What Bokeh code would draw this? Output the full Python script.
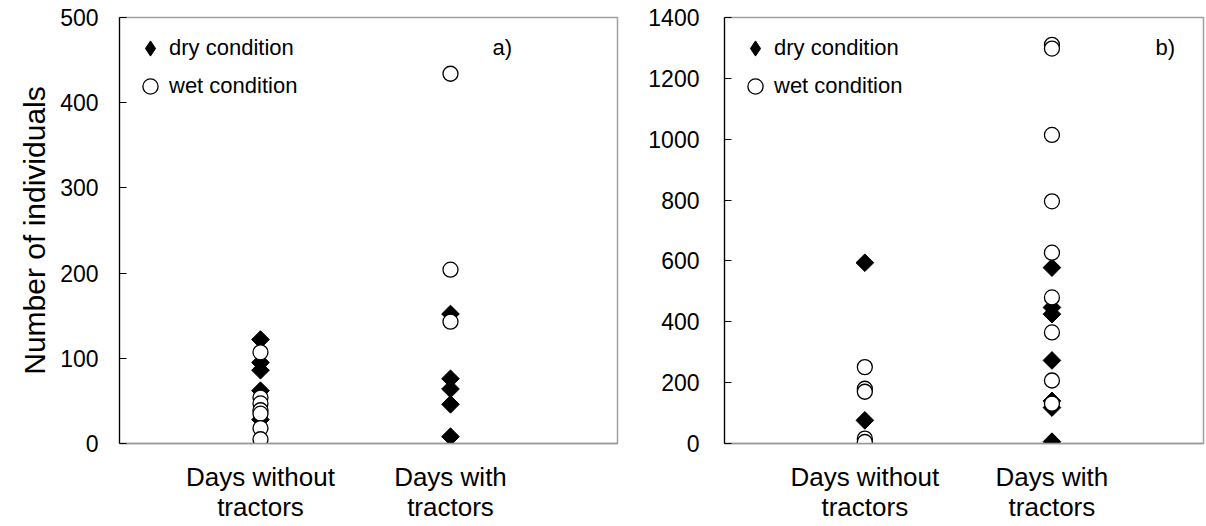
import math
from bokeh.plotting import figure
from bokeh.layouts import row
from bokeh.models import FixedTicker, Legend, LegendItem, Label, Range1d
from bokeh.embed import file_html
from bokeh.resources import INLINE

categories = ["Days without\ntractors", "Days with\ntractors"]

# panel a)
a_dry_without = [122, 95, 86, 62, 28]
a_wet_without = [107, 54, 47, 39, 35, 18, 5]
a_dry_with = [152, 76, 64, 46, 8]
a_wet_with = [434, 204, 143]

# panel b)
b_dry_without = [594, 76]
b_wet_without = [251, 180, 170, 16, 5]
b_dry_with = [578, 447, 425, 273, 140, 118, 6]
b_wet_with = [1310, 1298, 1014, 796, 627, 480, 365, 207, 131]

a_ticks = [0, 100, 200, 300, 400, 500]
b_ticks = [0, 200, 400, 600, 800, 1000, 1200, 1400]

FONT = "Liberation Sans"


def make_panel(dry_without, wet_without, dry_with, wet_with, yticks,
               width, x_range, border_left, border_right, border_bottom,
               tick_standoff, tag, tag_x, tag_y, ylabel=None):
    p = figure(width=width, height=524, output_backend="svg",
               toolbar_location=None,
               x_range=Range1d(*x_range), y_range=Range1d(yticks[0], yticks[-1]),
               min_border_left=border_left, min_border_right=border_right,
               min_border_top=17, min_border_bottom=border_bottom)
    p.grid.visible = False
    p.outline_line_color = "#a0a0a0"
    p.outline_line_width = 1.5
    p.background_fill_color = "white"

    # x axis
    p.xaxis.ticker = FixedTicker(ticks=[1, 2])
    p.xaxis.major_label_overrides = {1: categories[0], 2: categories[1]}
    p.xaxis.major_tick_line_color = None
    p.xaxis.minor_tick_line_color = None
    p.xaxis.axis_line_color = "#999999"
    p.xaxis.axis_line_width = 1.5
    p.xaxis.major_label_text_font = FONT
    p.xaxis.major_label_text_font_size = "26px"
    p.xaxis.major_label_text_color = "black"
    p.xaxis.major_label_standoff = 12
    p.xaxis.major_label_text_line_height = 1.0

    # y axis
    p.yaxis.ticker = FixedTicker(ticks=yticks)
    p.yaxis.major_tick_in = 7
    p.yaxis.major_tick_out = 0
    p.yaxis.minor_tick_line_color = None
    p.yaxis.axis_line_color = "black"
    p.yaxis.axis_line_width = 1.2
    p.yaxis.major_tick_line_color = "black"
    p.yaxis.major_label_text_font = FONT
    p.yaxis.major_label_text_font_size = "23px"
    p.yaxis.major_label_text_color = "black"
    p.yaxis.major_label_standoff = tick_standoff
    if ylabel:
        p.yaxis.axis_label = ylabel
        p.yaxis.axis_label_text_font = FONT
        p.yaxis.axis_label_text_font_style = "normal"
        p.yaxis.axis_label_text_font_size = "30px"
        p.yaxis.axis_label_text_color = "black"
        p.yaxis.axis_label_standoff = 6

    dry_x = [1] * len(dry_without) + [2] * len(dry_with)
    dry_y = dry_without + dry_with
    wet_x = [1] * len(wet_without) + [2] * len(wet_with)
    wet_y = wet_without + wet_with

    p.scatter(dry_x, dry_y, marker="square", size=12.5, angle=math.pi / 4,
              fill_color="black", line_color="black")
    rw = p.scatter(wet_x, wet_y, marker="circle", size=15,
                   fill_color="white", line_color="black", line_width=1.3)
    # legend-only renderer for the diamond key (its single point is NaN, never drawn)
    rd_key = p.scatter([float("nan")], [float("nan")], marker="diamond", size=15,
                       fill_color="black", line_color="black")

    legend = Legend(items=[LegendItem(label="dry condition", renderers=[rd_key]),
                           LegendItem(label="wet condition", renderers=[rw])],
                    location="top_left", border_line_color=None,
                    background_fill_alpha=0, label_text_font=FONT,
                    label_text_font_size="22px", label_text_color="black",
                    spacing=0, glyph_width=38, glyph_height=38,
                    label_standoff=0, margin=12, padding=0)
    p.add_layout(legend)

    p.add_layout(Label(x=tag_x, y=tag_y, x_units="screen", y_units="screen",
                       text=tag, text_font=FONT, text_font_size="22px",
                       text_color="black"))
    return p


pa = make_panel(a_dry_without, a_wet_without, a_dry_with, a_wet_with, a_ticks,
                644, (0.258, 2.879), 119, 27, 80, 21, "a)", 373, 384,
                ylabel="Number of individuals")
pb = make_panel(b_dry_without, b_wet_without, b_dry_with, b_wet_with, b_ticks,
                561, (0.25, 2.81), 80, 2, 78, 25, "b)", 431, 384)

layout = row(pa, pb, spacing=0)
open("out.html", "w").write(file_html(layout, INLINE))
